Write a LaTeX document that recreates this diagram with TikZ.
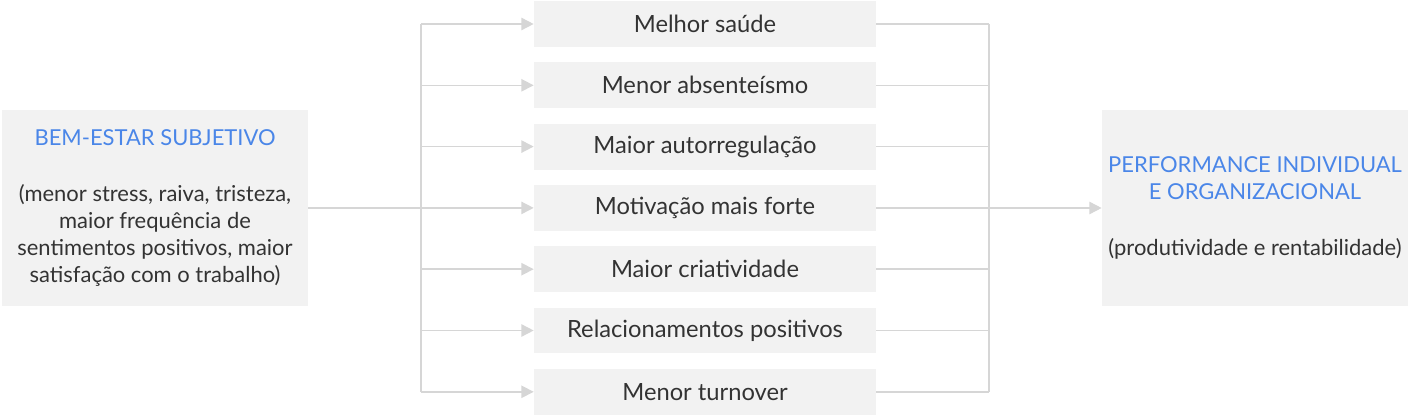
\documentclass[tikz,border=0pt]{standalone}
\usepackage{fontspec}
\setmainfont{Lato}
\usetikzlibrary{arrows.meta,positioning}
\definecolor{boxgray}{HTML}{F2F2F2}
\definecolor{linegray}{HTML}{D6D6D6}
\definecolor{titleblue}{HTML}{4A86E8}
\definecolor{txtgray}{HTML}{333333}
\tikzset{
  effect/.style={fill=boxgray, minimum width=6.84cm, minimum height=0.92cm, inner sep=0pt, font=\fontsize{13.5}{16}\selectfont, text=txtgray},
  bigbox/.style={fill=boxgray, minimum width=6.12cm, minimum height=3.92cm, inner sep=0pt, align=center, font=\fontsize{12.5}{15.5}\selectfont, text=txtgray},
  link/.style={draw=linegray, line width=0.9pt},
  tip/.style={link, -{Triangle[length=7pt,width=7pt,fill=linegray]}}
}
\begin{document}
\begin{tikzpicture}[x=0.02cm,y=-0.02cm]
  \useasboundingbox (0,0) rectangle (1408,418);
  %--
  \node[bigbox] (wb) at (155,208) {\textcolor{titleblue}{BEM-ESTAR SUBJETIVO}\\[1.3em](menor stress, raiva, tristeza,\\maior frequência de\\sentimentos positivos, maior\\satisfação com o trabalho)};
  \node[bigbox] (perf) at (1255,208) {\textcolor{titleblue}{PERFORMANCE INDIVIDUAL}\\\textcolor{titleblue}{E ORGANIZACIONAL}\\[1.3em](produtividade e rentabilidade)};
  %--
  \coordinate (split) at (421,208);
  \coordinate (join) at (989,208);
  \foreach \txt [count=\i] in {Melhor saúde, Menor absenteísmo, Maior autorregulação, Motivação mais forte, Maior criatividade, Relacionamentos positivos, Menor turnover}{
    \node[effect] (e\i) at (705,{24+61.3*(\i-1)}) {\txt};
    \draw[tip] (split |- e\i) -- (e\i.west);
    \draw[link] (e\i.east) -- (join |- e\i);
  }
  \draw[link] (split |- e1) -- (split |- e7);
  \draw[link] (join |- e1) -- (join |- e7);
  \draw[link] (wb.east) -- (split);
  \draw[tip] (join) -- (perf.west);
\end{tikzpicture}
\end{document}
